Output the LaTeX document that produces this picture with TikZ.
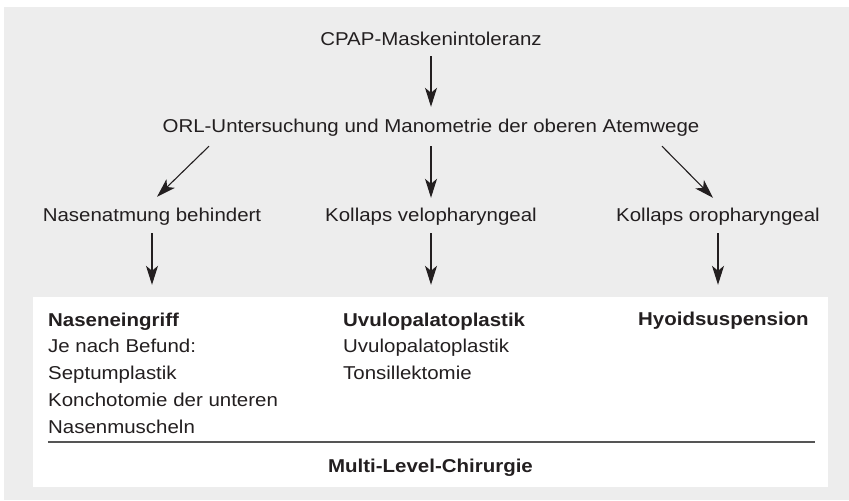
\documentclass[tikz,border=0pt]{standalone}
\usepackage{fontspec}
\setmainfont[FakeStretch=1.1]{Liberation Sans}
\usepackage{xcolor}
\usepackage{tikz}
\usetikzlibrary{arrows.meta,positioning}

\definecolor{bggray}{HTML}{EDEDED}
\definecolor{inkgray}{HTML}{231F20}
\definecolor{rulegray}{HTML}{555555}
\newcommand{\flowsize}{\fontsize{18.6bp}{26.8bp}\selectfont}

\begin{document}
\begin{tikzpicture}[x=1bp, y=-1bp, auto]
    % Define styles
    \tikzstyle{stagetext} = [inner sep=0pt, text=inkgray, font=\flowsize, text height=14bp, text depth=4bp, anchor=base]
    \tikzstyle{columntext} = [inner sep=0pt, text=inkgray, font=\flowsize, align=left, anchor=base west]
    \tikzstyle{surgerybox} = [rectangle, fill=white, inner sep=0pt, minimum width=795bp, minimum height=190bp]
    \tikzstyle{flowarrow} = [draw=inkgray, line width=1.1bp, -{Stealth[length=19bp,width=12bp,inset=5bp]}]

    % Background
    \useasboundingbox (0,0) rectangle (849,501);
    \fill[bggray] (4,7) rectangle (849,500);

    % Nodes
    \node[stagetext] (cpap) at (431,46) {CPAP-Maskenintoleranz};
    \node[stagetext] (orl) at (431,133) {ORL-Untersuchung und Manometrie der oberen Atemwege};
    \node[stagetext] (nase) at (152,222) {Nasenatmung behindert};
    \node[stagetext] (velo) at (431,222) {Kollaps velopharyngeal};
    \node[stagetext] (oro) at (718,222) {Kollaps oropharyngeal};
    \node[surgerybox] (surgery) at (430.5,392) {};
    % base anchor sits on the last line
    \node[columntext] (naseneingriff) at (48,433.2) {\textbf{Naseneingriff}\\Je nach Befund:\\Septumplastik\\Konchotomie der unteren\\Nasenmuscheln};
    \node[columntext] (uvulo) at (343,379.6) {\textbf{Uvulopalatoplastik}\\Uvulopalatoplastik\\Tonsillektomie};
    \node[columntext] (hyoid) at (638,326) {\textbf{Hyoidsuspension}};
    \node[stagetext] (multilevel) at (430.5,472) {\textbf{Multi-Level-Chirurgie}};

    % Rule above Multi-Level
    \draw[rulegray, line width=2bp] ([shift={(15,-45)}]surgery.south west) -- ([shift={(-13,-45)}]surgery.south east);

    % Connections
    \draw[flowarrow] ([yshift=-6bp]cpap.south) -- ([yshift=12bp]orl.north);
    \draw[flowarrow] ([xshift=-222bp,yshift=-9bp]orl.south) -- ([xshift=5bp,yshift=11bp]nase.north);
    \draw[flowarrow] ([yshift=-9bp]orl.south) -- ([yshift=10bp]velo.north);
    \draw[flowarrow] ([xshift=231bp,yshift=-9bp]orl.south) -- ([xshift=-5bp,yshift=10bp]oro.north);
    \draw[flowarrow] ([yshift=-7bp]nase.south) -- ([yshift=12bp]nase |- surgery.north);
    \draw[flowarrow] ([yshift=-7bp]velo.south) -- ([yshift=12bp]velo |- surgery.north);
    \draw[flowarrow] ([yshift=-7bp]oro.south) -- ([yshift=12bp]oro |- surgery.north);
\end{tikzpicture}
\end{document}
